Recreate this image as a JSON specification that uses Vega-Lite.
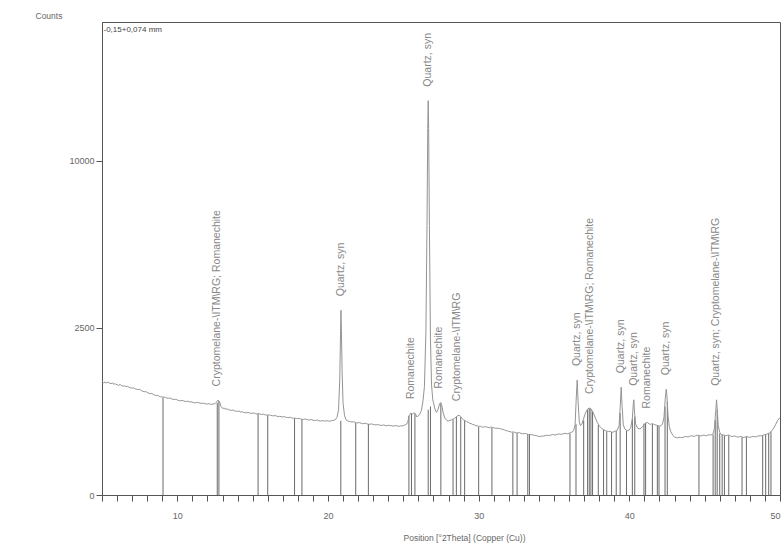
{
  "$schema": "https://vega.github.io/schema/vega-lite/v6.json",
  "width": 678,
  "height": 473,
  "autosize": {"type": "none"},
  "padding": {"left": 102, "top": 22, "right": 4, "bottom": 52},
  "background": "white",
  "config": {
    "font": "Liberation Sans",
    "view": {"stroke": "#555555", "strokeWidth": 1},
    "axis": {"grid": false, "domainColor": "#555555", "tickColor": "#555555", "labelColor": "#666666", "titleColor": "#666666", "labelFontSize": 9, "titleFontSize": 8.5, "titleFontWeight": "normal"}
  },
  "datasets": {
    "profile": [
      {"theta": 5.0, "counts": 1150}, {"theta": 5.1, "counts": 1128}, {"theta": 5.2, "counts": 1140}, {"theta": 5.3, "counts": 1122}, {"theta": 5.4, "counts": 1142}, {"theta": 5.5, "counts": 1118}, {"theta": 5.6, "counts": 1110}, {"theta": 5.7, "counts": 1120}, {"theta": 5.8, "counts": 1098},
      {"theta": 5.9, "counts": 1104}, {"theta": 6.0, "counts": 1085}, {"theta": 6.1, "counts": 1076}, {"theta": 6.2, "counts": 1092}, {"theta": 6.3, "counts": 1068}, {"theta": 6.4, "counts": 1060}, {"theta": 6.5, "counts": 1066}, {"theta": 6.6, "counts": 1048}, {"theta": 6.7, "counts": 1056}, {"theta": 6.8, "counts": 1036},
      {"theta": 6.9, "counts": 1030}, {"theta": 7.0, "counts": 1020}, {"theta": 7.1, "counts": 1028}, {"theta": 7.2, "counts": 1008}, {"theta": 7.3, "counts": 1000}, {"theta": 7.4, "counts": 992}, {"theta": 7.5, "counts": 998}, {"theta": 7.6, "counts": 976}, {"theta": 7.7, "counts": 962}, {"theta": 7.8, "counts": 952},
      {"theta": 7.9, "counts": 958}, {"theta": 8.0, "counts": 940}, {"theta": 8.1, "counts": 928}, {"theta": 8.2, "counts": 917}, {"theta": 8.3, "counts": 922}, {"theta": 8.4, "counts": 904}, {"theta": 8.5, "counts": 892}, {"theta": 8.6, "counts": 882}, {"theta": 8.7, "counts": 888}, {"theta": 8.8, "counts": 870},
      {"theta": 8.9, "counts": 862}, {"theta": 9.0, "counts": 856}, {"theta": 9.1, "counts": 861}, {"theta": 9.2, "counts": 848}, {"theta": 9.3, "counts": 840}, {"theta": 9.4, "counts": 836}, {"theta": 9.5, "counts": 842}, {"theta": 9.6, "counts": 828}, {"theta": 9.7, "counts": 820}, {"theta": 9.8, "counts": 814},
      {"theta": 9.9, "counts": 819}, {"theta": 10.0, "counts": 806}, {"theta": 10.1, "counts": 798}, {"theta": 10.2, "counts": 792}, {"theta": 10.3, "counts": 800}, {"theta": 10.4, "counts": 794}, {"theta": 10.5, "counts": 784}, {"theta": 10.6, "counts": 781}, {"theta": 10.7, "counts": 788}, {"theta": 10.8, "counts": 774},
      {"theta": 10.9, "counts": 778}, {"theta": 11.0, "counts": 770}, {"theta": 11.1, "counts": 764}, {"theta": 11.2, "counts": 758}, {"theta": 11.3, "counts": 768}, {"theta": 11.4, "counts": 762}, {"theta": 11.5, "counts": 754}, {"theta": 11.6, "counts": 750}, {"theta": 11.7, "counts": 756}, {"theta": 11.8, "counts": 746},
      {"theta": 11.9, "counts": 742}, {"theta": 12.0, "counts": 740}, {"theta": 12.1, "counts": 746}, {"theta": 12.2, "counts": 734}, {"theta": 12.3, "counts": 738}, {"theta": 12.4, "counts": 741}, {"theta": 12.5, "counts": 745}, {"theta": 12.6, "counts": 772},
      {"theta": 12.7, "counts": 805}, {"theta": 12.8, "counts": 780}, {"theta": 12.9, "counts": 700}, {"theta": 13.0, "counts": 670}, {"theta": 13.1, "counts": 676}, {"theta": 13.2, "counts": 660}, {"theta": 13.3, "counts": 664},
      {"theta": 13.4, "counts": 651}, {"theta": 13.5, "counts": 645}, {"theta": 13.6, "counts": 640}, {"theta": 13.7, "counts": 646}, {"theta": 13.8, "counts": 632}, {"theta": 13.9, "counts": 628}, {"theta": 14.0, "counts": 624}, {"theta": 14.1, "counts": 630}, {"theta": 14.2, "counts": 616},
      {"theta": 14.3, "counts": 619}, {"theta": 14.4, "counts": 611}, {"theta": 14.5, "counts": 606}, {"theta": 14.6, "counts": 604}, {"theta": 14.7, "counts": 609}, {"theta": 14.8, "counts": 601}, {"theta": 14.9, "counts": 596}, {"theta": 15.0, "counts": 597}, {"theta": 15.1, "counts": 602}, {"theta": 15.2, "counts": 590},
      {"theta": 15.3, "counts": 586}, {"theta": 15.4, "counts": 593}, {"theta": 15.5, "counts": 584}, {"theta": 15.6, "counts": 580}, {"theta": 15.7, "counts": 585}, {"theta": 15.8, "counts": 576}, {"theta": 15.9, "counts": 572}, {"theta": 16.0, "counts": 570}, {"theta": 16.1, "counts": 575}, {"theta": 16.2, "counts": 566},
      {"theta": 16.3, "counts": 562}, {"theta": 16.4, "counts": 560}, {"theta": 16.5, "counts": 565}, {"theta": 16.6, "counts": 555}, {"theta": 16.7, "counts": 550}, {"theta": 16.8, "counts": 553}, {"theta": 16.9, "counts": 548}, {"theta": 17.0, "counts": 545}, {"theta": 17.1, "counts": 550}, {"theta": 17.2, "counts": 541},
      {"theta": 17.3, "counts": 537}, {"theta": 17.4, "counts": 535}, {"theta": 17.5, "counts": 540}, {"theta": 17.6, "counts": 531}, {"theta": 17.7, "counts": 526}, {"theta": 17.8, "counts": 528}, {"theta": 17.9, "counts": 524}, {"theta": 18.0, "counts": 520}, {"theta": 18.1, "counts": 525}, {"theta": 18.2, "counts": 516},
      {"theta": 18.3, "counts": 511}, {"theta": 18.4, "counts": 512}, {"theta": 18.5, "counts": 517}, {"theta": 18.6, "counts": 508}, {"theta": 18.7, "counts": 503}, {"theta": 18.8, "counts": 505}, {"theta": 18.9, "counts": 509}, {"theta": 19.0, "counts": 500}, {"theta": 19.1, "counts": 496}, {"theta": 19.2, "counts": 498},
      {"theta": 19.3, "counts": 503}, {"theta": 19.4, "counts": 492}, {"theta": 19.5, "counts": 489}, {"theta": 19.6, "counts": 495}, {"theta": 19.7, "counts": 491}, {"theta": 19.8, "counts": 488}, {"theta": 19.9, "counts": 494}, {"theta": 20.0, "counts": 490}, {"theta": 20.1, "counts": 486}, {"theta": 20.2, "counts": 492},
      {"theta": 20.3, "counts": 496}, {"theta": 20.4, "counts": 500}, {"theta": 20.5, "counts": 510}, {"theta": 20.6, "counts": 540}, {"theta": 20.7, "counts": 650}, {"theta": 20.78, "counts": 1200},
      {"theta": 20.83, "counts": 2300}, {"theta": 20.86, "counts": 3050}, {"theta": 20.89, "counts": 2400}, {"theta": 20.94, "counts": 1300}, {"theta": 21.0, "counts": 750},
      {"theta": 21.1, "counts": 560}, {"theta": 21.2, "counts": 505}, {"theta": 21.3, "counts": 492}, {"theta": 21.4, "counts": 485}, {"theta": 21.5, "counts": 480}, {"theta": 21.6, "counts": 476}, {"theta": 21.7, "counts": 481}, {"theta": 21.8, "counts": 470},
      {"theta": 21.9, "counts": 466}, {"theta": 22.0, "counts": 465}, {"theta": 22.1, "counts": 470}, {"theta": 22.2, "counts": 459}, {"theta": 22.3, "counts": 455}, {"theta": 22.4, "counts": 456}, {"theta": 22.5, "counts": 461}, {"theta": 22.6, "counts": 451}, {"theta": 22.7, "counts": 447}, {"theta": 22.8, "counts": 448},
      {"theta": 22.9, "counts": 452}, {"theta": 23.0, "counts": 445}, {"theta": 23.1, "counts": 441}, {"theta": 23.2, "counts": 440}, {"theta": 23.3, "counts": 444}, {"theta": 23.4, "counts": 438}, {"theta": 23.5, "counts": 433}, {"theta": 23.6, "counts": 434}, {"theta": 23.7, "counts": 439}, {"theta": 23.8, "counts": 432},
      {"theta": 23.9, "counts": 428}, {"theta": 24.0, "counts": 435}, {"theta": 24.1, "counts": 431}, {"theta": 24.2, "counts": 430}, {"theta": 24.3, "counts": 425}, {"theta": 24.4, "counts": 427}, {"theta": 24.5, "counts": 431}, {"theta": 24.6, "counts": 425}, {"theta": 24.7, "counts": 421}, {"theta": 24.8, "counts": 428},
      {"theta": 24.9, "counts": 425}, {"theta": 25.0, "counts": 432}, {"theta": 25.1, "counts": 437}, {"theta": 25.2, "counts": 445}, {"theta": 25.3, "counts": 480}, {"theta": 25.4, "counts": 570}, {"theta": 25.5, "counts": 600},
      {"theta": 25.6, "counts": 585}, {"theta": 25.7, "counts": 605}, {"theta": 25.8, "counts": 590}, {"theta": 25.9, "counts": 545}, {"theta": 26.0, "counts": 560},
      {"theta": 26.1, "counts": 590}, {"theta": 26.2, "counts": 640}, {"theta": 26.3, "counts": 780}, {"theta": 26.4, "counts": 1050}, {"theta": 26.5, "counts": 2400},
      {"theta": 26.57, "counts": 6500}, {"theta": 26.62, "counts": 12000}, {"theta": 26.65, "counts": 13900}, {"theta": 26.68, "counts": 12000}, {"theta": 26.73, "counts": 6500},
      {"theta": 26.8, "counts": 2200}, {"theta": 26.87, "counts": 1100}, {"theta": 26.95, "counts": 820}, {"theta": 27.0, "counts": 760}, {"theta": 27.1, "counts": 660},
      {"theta": 27.2, "counts": 610}, {"theta": 27.3, "counts": 650}, {"theta": 27.4, "counts": 740}, {"theta": 27.48, "counts": 765}, {"theta": 27.55, "counts": 720},
      {"theta": 27.65, "counts": 600}, {"theta": 27.75, "counts": 530}, {"theta": 27.9, "counts": 495}, {"theta": 28.0, "counts": 490}, {"theta": 28.1, "counts": 500},
      {"theta": 28.2, "counts": 505}, {"theta": 28.3, "counts": 515}, {"theta": 28.4, "counts": 525}, {"theta": 28.5, "counts": 545}, {"theta": 28.6, "counts": 560},
      {"theta": 28.7, "counts": 570}, {"theta": 28.8, "counts": 550}, {"theta": 28.9, "counts": 525}, {"theta": 29.0, "counts": 505}, {"theta": 29.1, "counts": 495},
      {"theta": 29.2, "counts": 480}, {"theta": 29.3, "counts": 474}, {"theta": 29.4, "counts": 460}, {"theta": 29.5, "counts": 456}, {"theta": 29.6, "counts": 445}, {"theta": 29.7, "counts": 440}, {"theta": 29.8, "counts": 430}, {"theta": 29.9, "counts": 428}, {"theta": 30.0, "counts": 420},
      {"theta": 30.1, "counts": 424}, {"theta": 30.2, "counts": 415}, {"theta": 30.3, "counts": 410}, {"theta": 30.4, "counts": 418}, {"theta": 30.5, "counts": 414}, {"theta": 30.6, "counts": 410}, {"theta": 30.7, "counts": 404}, {"theta": 30.8, "counts": 412}, {"theta": 30.9, "counts": 409}, {"theta": 31.0, "counts": 405},
      {"theta": 31.1, "counts": 398}, {"theta": 31.2, "counts": 400}, {"theta": 31.3, "counts": 396}, {"theta": 31.4, "counts": 395}, {"theta": 31.5, "counts": 388}, {"theta": 31.6, "counts": 385}, {"theta": 31.7, "counts": 380}, {"theta": 31.8, "counts": 372}, {"theta": 31.9, "counts": 368}, {"theta": 32.0, "counts": 362},
      {"theta": 32.1, "counts": 358}, {"theta": 32.2, "counts": 352}, {"theta": 32.3, "counts": 356}, {"theta": 32.4, "counts": 350}, {"theta": 32.5, "counts": 344}, {"theta": 32.6, "counts": 345}, {"theta": 32.7, "counts": 349}, {"theta": 32.8, "counts": 340}, {"theta": 32.9, "counts": 336}, {"theta": 33.0, "counts": 335},
      {"theta": 33.1, "counts": 339}, {"theta": 33.2, "counts": 332}, {"theta": 33.3, "counts": 327}, {"theta": 33.4, "counts": 328}, {"theta": 33.5, "counts": 325}, {"theta": 33.6, "counts": 322}, {"theta": 33.7, "counts": 318}, {"theta": 33.8, "counts": 315}, {"theta": 33.9, "counts": 311}, {"theta": 34.0, "counts": 308},
      {"theta": 34.1, "counts": 305}, {"theta": 34.2, "counts": 312}, {"theta": 34.3, "counts": 309}, {"theta": 34.4, "counts": 315}, {"theta": 34.5, "counts": 318}, {"theta": 34.6, "counts": 320}, {"theta": 34.7, "counts": 316}, {"theta": 34.8, "counts": 322}, {"theta": 34.9, "counts": 327}, {"theta": 35.0, "counts": 325},
      {"theta": 35.1, "counts": 321}, {"theta": 35.2, "counts": 328}, {"theta": 35.3, "counts": 333}, {"theta": 35.4, "counts": 332}, {"theta": 35.5, "counts": 328}, {"theta": 35.6, "counts": 335}, {"theta": 35.7, "counts": 340}, {"theta": 35.8, "counts": 338}, {"theta": 35.9, "counts": 334}, {"theta": 36.0, "counts": 342},
      {"theta": 36.1, "counts": 347}, {"theta": 36.2, "counts": 355}, {"theta": 36.3, "counts": 370}, {"theta": 36.4, "counts": 440}, {"theta": 36.47, "counts": 800}, {"theta": 36.54, "counts": 1180},
      {"theta": 36.6, "counts": 780}, {"theta": 36.68, "counts": 480}, {"theta": 36.75, "counts": 430}, {"theta": 36.85, "counts": 450}, {"theta": 36.95, "counts": 510},
      {"theta": 37.05, "counts": 580}, {"theta": 37.15, "counts": 630}, {"theta": 37.25, "counts": 665}, {"theta": 37.35, "counts": 675}, {"theta": 37.45, "counts": 665},
      {"theta": 37.55, "counts": 630}, {"theta": 37.65, "counts": 580}, {"theta": 37.75, "counts": 530}, {"theta": 37.85, "counts": 480}, {"theta": 38.0, "counts": 430},
      {"theta": 38.1, "counts": 408}, {"theta": 38.2, "counts": 390}, {"theta": 38.3, "counts": 382}, {"theta": 38.4, "counts": 370}, {"theta": 38.5, "counts": 366}, {"theta": 38.6, "counts": 360}, {"theta": 38.7, "counts": 363}, {"theta": 38.8, "counts": 355}, {"theta": 38.9, "counts": 352}, {"theta": 39.0, "counts": 360},
      {"theta": 39.1, "counts": 366}, {"theta": 39.2, "counts": 375}, {"theta": 39.32, "counts": 430}, {"theta": 39.4, "counts": 720}, {"theta": 39.46, "counts": 1040}, {"theta": 39.52, "counts": 700},
      {"theta": 39.6, "counts": 440}, {"theta": 39.7, "counts": 390}, {"theta": 39.8, "counts": 375}, {"theta": 39.9, "counts": 370}, {"theta": 40.0, "counts": 380}, {"theta": 40.1, "counts": 410},
      {"theta": 40.2, "counts": 520}, {"theta": 40.26, "counts": 740}, {"theta": 40.3, "counts": 810}, {"theta": 40.35, "counts": 600}, {"theta": 40.42, "counts": 450},
      {"theta": 40.55, "counts": 400}, {"theta": 40.7, "counts": 390}, {"theta": 40.85, "counts": 410}, {"theta": 41.0, "counts": 450}, {"theta": 41.1, "counts": 465},
      {"theta": 41.2, "counts": 470}, {"theta": 41.3, "counts": 455}, {"theta": 41.4, "counts": 445}, {"theta": 41.5, "counts": 455}, {"theta": 41.6, "counts": 450},
      {"theta": 41.7, "counts": 440}, {"theta": 41.8, "counts": 435}, {"theta": 41.9, "counts": 428}, {"theta": 42.0, "counts": 425}, {"theta": 42.1, "counts": 430},
      {"theta": 42.2, "counts": 450}, {"theta": 42.3, "counts": 540}, {"theta": 42.38, "counts": 820}, {"theta": 42.45, "counts": 1000}, {"theta": 42.5, "counts": 860},
      {"theta": 42.57, "counts": 560}, {"theta": 42.65, "counts": 420}, {"theta": 42.75, "counts": 360}, {"theta": 42.9, "counts": 315}, {"theta": 43.0, "counts": 300},
      {"theta": 43.1, "counts": 296}, {"theta": 43.2, "counts": 292}, {"theta": 43.3, "counts": 298}, {"theta": 43.4, "counts": 296}, {"theta": 43.5, "counts": 293}, {"theta": 43.6, "counts": 300}, {"theta": 43.7, "counts": 304}, {"theta": 43.8, "counts": 305}, {"theta": 43.9, "counts": 301}, {"theta": 44.0, "counts": 308},
      {"theta": 44.1, "counts": 313}, {"theta": 44.2, "counts": 311}, {"theta": 44.3, "counts": 307}, {"theta": 44.4, "counts": 315}, {"theta": 44.5, "counts": 319}, {"theta": 44.6, "counts": 318}, {"theta": 44.7, "counts": 312}, {"theta": 44.8, "counts": 314}, {"theta": 44.9, "counts": 320}, {"theta": 45.0, "counts": 318},
      {"theta": 45.1, "counts": 313}, {"theta": 45.2, "counts": 320}, {"theta": 45.3, "counts": 324}, {"theta": 45.4, "counts": 322}, {"theta": 45.55, "counts": 330}, {"theta": 45.65, "counts": 400}, {"theta": 45.73, "counts": 620},
      {"theta": 45.79, "counts": 810}, {"theta": 45.84, "counts": 640}, {"theta": 45.9, "counts": 430}, {"theta": 46.0, "counts": 350}, {"theta": 46.1, "counts": 328},
      {"theta": 46.2, "counts": 324}, {"theta": 46.3, "counts": 320}, {"theta": 46.4, "counts": 314}, {"theta": 46.5, "counts": 318}, {"theta": 46.6, "counts": 322}, {"theta": 46.7, "counts": 312}, {"theta": 46.8, "counts": 306}, {"theta": 46.9, "counts": 308}, {"theta": 47.0, "counts": 312}, {"theta": 47.1, "counts": 305},
      {"theta": 47.2, "counts": 299}, {"theta": 47.3, "counts": 303}, {"theta": 47.4, "counts": 307}, {"theta": 47.5, "counts": 300}, {"theta": 47.6, "counts": 296}, {"theta": 47.7, "counts": 302}, {"theta": 47.8, "counts": 306}, {"theta": 47.9, "counts": 300}, {"theta": 48.0, "counts": 297}, {"theta": 48.1, "counts": 302},
      {"theta": 48.2, "counts": 307}, {"theta": 48.3, "counts": 305}, {"theta": 48.4, "counts": 301}, {"theta": 48.5, "counts": 308}, {"theta": 48.6, "counts": 314}, {"theta": 48.7, "counts": 312}, {"theta": 48.8, "counts": 316}, {"theta": 48.9, "counts": 320}, {"theta": 49.0, "counts": 326}, {"theta": 49.1, "counts": 330},
      {"theta": 49.2, "counts": 336}, {"theta": 49.3, "counts": 345}, {"theta": 49.4, "counts": 358}, {"theta": 49.5, "counts": 380}, {"theta": 49.6, "counts": 405}, {"theta": 49.7, "counts": 440}, {"theta": 49.85, "counts": 500}, {"theta": 50.0, "counts": 535}
    ],
    "sticks": [
      {"theta": 9.05, "counts": 850}, {"theta": 12.65, "counts": 760}, {"theta": 12.76, "counts": 790}, {"theta": 15.36, "counts": 590}, {"theta": 16.0, "counts": 570},
      {"theta": 17.78, "counts": 525}, {"theta": 18.27, "counts": 515}, {"theta": 20.85, "counts": 490}, {"theta": 21.84, "counts": 462}, {"theta": 22.68, "counts": 450},
      {"theta": 25.37, "counts": 560}, {"theta": 25.54, "counts": 600}, {"theta": 25.77, "counts": 595}, {"theta": 26.65, "counts": 650}, {"theta": 26.8, "counts": 700},
      {"theta": 27.49, "counts": 750}, {"theta": 28.3, "counts": 510}, {"theta": 28.52, "counts": 545}, {"theta": 28.81, "counts": 545}, {"theta": 29.07, "counts": 495},
      {"theta": 30.0, "counts": 415}, {"theta": 30.88, "counts": 405}, {"theta": 32.27, "counts": 350}, {"theta": 32.55, "counts": 345}, {"theta": 33.26, "counts": 330},
      {"theta": 33.37, "counts": 330}, {"theta": 36.06, "counts": 340}, {"theta": 36.46, "counts": 450}, {"theta": 36.97, "counts": 500}, {"theta": 37.23, "counts": 650},
      {"theta": 37.34, "counts": 675}, {"theta": 37.45, "counts": 660}, {"theta": 37.56, "counts": 620}, {"theta": 37.94, "counts": 440}, {"theta": 38.29, "counts": 380},
      {"theta": 38.5, "counts": 360}, {"theta": 38.82, "counts": 355}, {"theta": 39.13, "counts": 365}, {"theta": 39.39, "counts": 600}, {"theta": 39.81, "counts": 370},
      {"theta": 40.2, "counts": 520}, {"theta": 40.36, "counts": 550}, {"theta": 40.97, "counts": 455}, {"theta": 41.08, "counts": 465}, {"theta": 41.53, "counts": 450},
      {"theta": 41.86, "counts": 430}, {"theta": 41.97, "counts": 425}, {"theta": 42.37, "counts": 700}, {"theta": 42.52, "counts": 780}, {"theta": 44.62, "counts": 315},
      {"theta": 45.56, "counts": 325}, {"theta": 45.7, "counts": 500}, {"theta": 45.83, "counts": 650}, {"theta": 46.0, "counts": 340}, {"theta": 46.16, "counts": 322},
      {"theta": 46.31, "counts": 318}, {"theta": 46.6, "counts": 315}, {"theta": 47.48, "counts": 300}, {"theta": 47.77, "counts": 302}, {"theta": 48.85, "counts": 318},
      {"theta": 49.05, "counts": 330}, {"theta": 49.25, "counts": 342}, {"theta": 49.4, "counts": 360}
    ],
    "labels": [
      {"theta": 12.65, "counts": 800, "label": "Cryptomelane-\\ITM\\RG; Romanechite"},
      {"theta": 20.86, "counts": 3050, "label": "Quartz, syn"},
      {"theta": 25.54, "counts": 600, "label": "Romanechite"},
      {"theta": 26.65, "counts": 13900, "label": "Quartz, syn"},
      {"theta": 27.35, "counts": 765, "label": "Romanechite"},
      {"theta": 28.55, "counts": 570, "label": "Cryptomelane-\\ITM\\RG"},
      {"theta": 36.5, "counts": 1180, "label": "Quartz, syn"},
      {"theta": 37.42, "counts": 675, "label": "Cryptomelane-\\ITM\\RG; Romanechite"},
      {"theta": 39.45, "counts": 1040, "label": "Quartz, syn"},
      {"theta": 40.28, "counts": 810, "label": "Quartz, syn"},
      {"theta": 41.2, "counts": 470, "label": "Romanechite"},
      {"theta": 42.45, "counts": 1000, "label": "Quartz, syn"},
      {"theta": 45.78, "counts": 810, "label": "Quartz, syn; Cryptomelane-\\ITM\\RG"}
    ],
    "notes": [
      {"theta": 5.1, "counts": 19300, "note": "-0,15+0,074 mm"}
    ]
  },
  "encoding": {
    "x": {"field": "theta", "type": "quantitative", "scale": {"domain": [5, 50], "nice": false, "zero": false},
      "axis": {"values": [5,6,7,8,9,10,11,12,13,14,15,16,17,18,19,20,21,22,23,24,25,26,27,28,29,30,31,32,33,34,35,36,37,38,39,40,41,42,43,44,45,46,47,48,49,50],
        "labelExpr": "datum.value % 10 === 0 ? '' + datum.value : ''",
        "labelOverlap": false,
        "tickSize": 6,
        "labelPadding": 10,
        "title": "Position [°2Theta] (Copper (Cu))", "titleX": 362, "titleY": 42, "titleBaseline": "middle"}},
    "y": {"field": "counts", "type": "quantitative", "scale": {"type": "sqrt", "domain": [0, 20000], "nice": false},
      "axis": {"values": [0, 2500, 10000], "tickSize": 6, "labelPadding": 2, "format": "d", "labelOverlap": false,
        "title": "Counts", "titleAngle": 0, "titleX": -67, "titleY": -7, "titleAlign": "left", "titleBaseline": "middle"}}
  },
  "layer": [
    {
      "data": {"name": "sticks"},
      "mark": {"type": "rule", "color": "#6a6a6a", "strokeWidth": 1},
      "encoding": {"y2": {"datum": 0}}
    },
    {
      "data": {"name": "profile"},
      "mark": {"type": "line", "color": "#949494", "strokeWidth": 1},
      "encoding": {}
    },
    {
      "data": {"name": "labels"},
      "mark": {"type": "text", "angle": 270, "align": "left", "baseline": "middle", "dx": 14, "fontSize": 10.5, "color": "#888888"},
      "encoding": {"text": {"field": "label"}}
    },
    {
      "data": {"name": "notes"},
      "mark": {"type": "text", "align": "left", "baseline": "middle", "fontSize": 8, "color": "#444444"},
      "encoding": {"text": {"field": "note"}}
    }
  ]
}
